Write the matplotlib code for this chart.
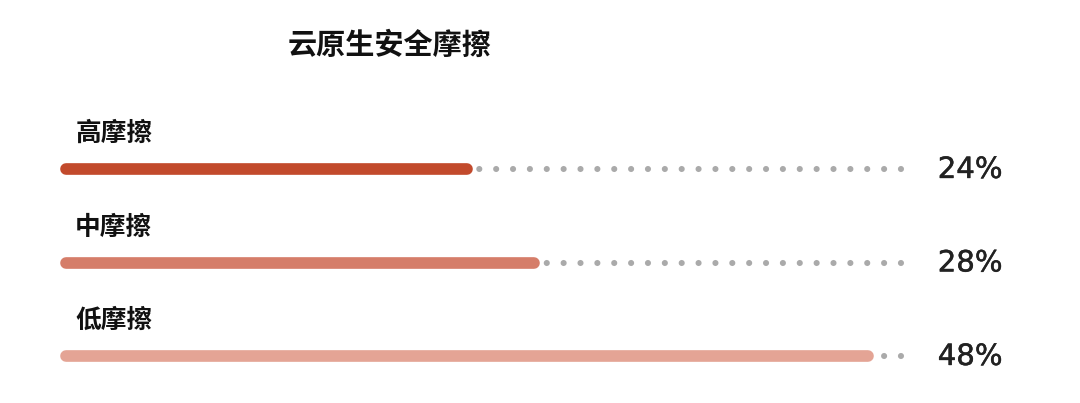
import matplotlib
matplotlib.use("Agg")
import matplotlib.pyplot as plt
import matplotlib.patheffects as pe
import numpy as np

plt.rcParams['font.family'] = ['Noto Sans CJK SC', 'DejaVu Sans']

title = '云原生安全摩擦'
labels = ['高摩擦', '中摩擦', '低摩擦']
values = [24, 28, 48]
pct_labels = ['24%', '28%', '48%']
colors = ['#C24A2C', '#D57D69', '#E4A495']
track_max = 50

fig = plt.figure(figsize=(10.8, 4.03), dpi=100)
ax = fig.add_axes([0, 0, 1, 1])

# pixel mapping: x px = 66 + v*sx, row i at y px = 169 + 93.5*i
sx = 16.7
x0 = 66
ax.set_xlim(-x0 / sx, (1080 - x0) / sx)
ax.set_ylim((403 - 169) / 93.5, -169 / 93.5)
ax.axis('off')

for i, (lab, v, pl, c) in enumerate(zip(labels, values, pct_labels, colors)):
    # dotted track under the bar, dots lined up from the right end
    ax.plot([track_max, 0], [i, i], color='#AAAAAA', lw=4.4,
            linestyle=(0, (0.01, 2.75)), dash_capstyle='round', zorder=1)
    ax.plot([0, v], [i, i], color=c, lw=8.4, solid_capstyle='round', zorder=2)
    ax.text(0.55, i - 0.38, lab, fontsize=18.5, fontweight='bold',
            va='center', ha='left', color='#111111')
    ax.text(52.2, i + 0.01, pl, fontsize=21, va='center', ha='left',
            color='#222222', family='DejaVu Sans',
            path_effects=[pe.withStroke(linewidth=0.35, foreground='#222222')])

fig.text(390 / 1080, 1 - 45 / 403, title, fontsize=21, fontweight='bold',
         ha='center', va='center', color='#111111')

fig.savefig('out.png', dpi=100)
